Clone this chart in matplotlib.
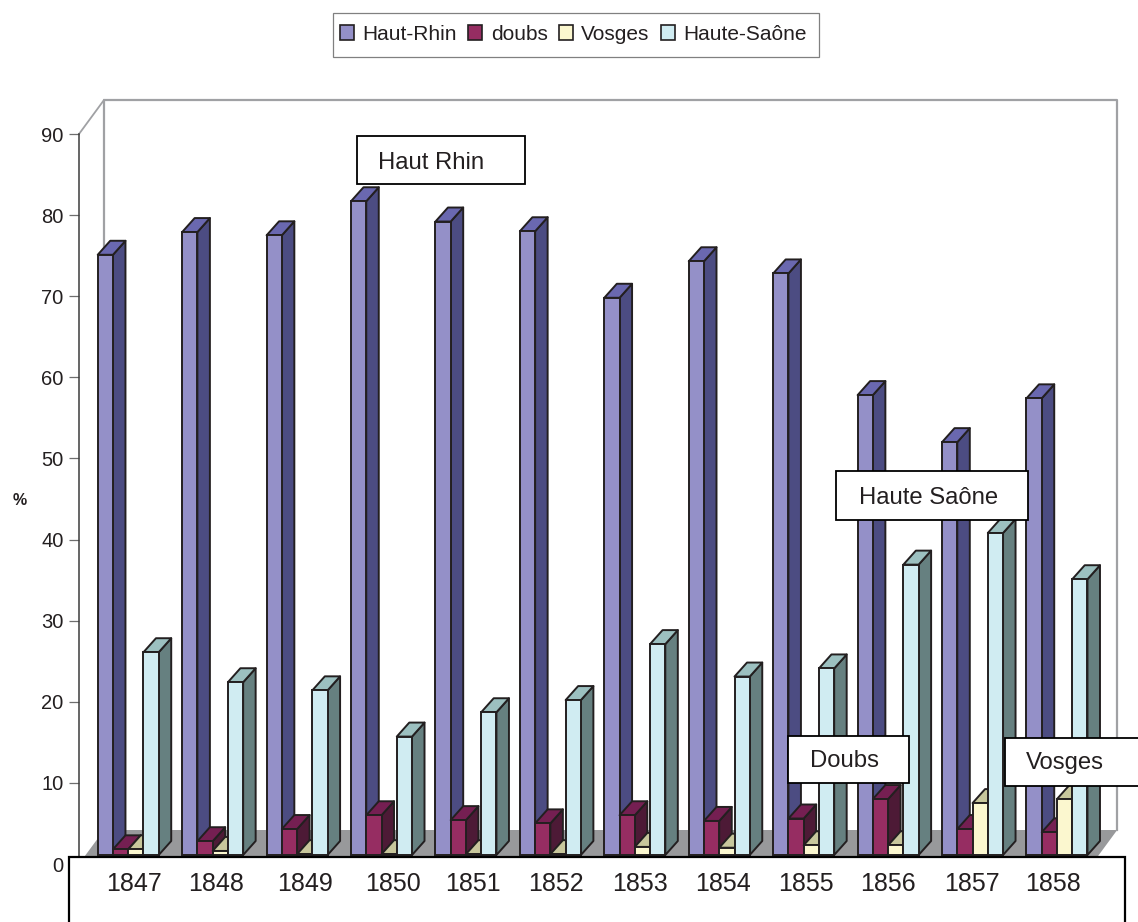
import matplotlib
matplotlib.use("Agg")
import matplotlib.pyplot as plt
from matplotlib.patches import Polygon, Rectangle, Patch

plt.rcParams['font.family'] = ['Liberation Sans', 'DejaVu Sans']

years = [1847, 1848, 1849, 1850, 1851, 1852, 1853, 1854, 1855, 1856, 1857, 1858]
series_names = ['Haut-Rhin', 'doubs', 'Vosges', 'Haute-Saône']
haut_rhin = [74.0, 76.8, 76.4, 80.6, 78.1, 76.9, 68.7, 73.2, 71.7, 56.7, 50.9, 56.3]
doubs = [0.7, 1.7, 3.2, 4.9, 4.3, 3.9, 4.9, 4.2, 4.5, 6.9, 3.2, 2.8]
vosges = [0.7, 0.5, 0.1, 0.1, 0.1, 0.1, 1.0, 0.9, 1.2, 1.2, 6.4, 6.9]
haute_saone = [25.0, 21.3, 20.3, 14.6, 17.6, 19.1, 26.0, 22.0, 23.0, 35.8, 39.7, 34.0]
yticks = list(range(0, 100, 10))

W, H = 1138, 922
INK = '#231f20'
front = ['#9490c8', '#962d62', '#fbf7cf', '#d0ecf2']
side = ['#4c4c82', '#4d1a36', '#7f7d68', '#668080']
top = ['#6a68b0', '#751f52', '#c8c79c', '#9cc0c0']

fig = plt.figure(figsize=(W / 100, H / 100), dpi=100, facecolor='white')
L, R, Y0, Y90 = 79, 1092.2, 864, 134
ax = fig.add_axes([L / W, (H - Y0) / H, (R - L) / W, (Y0 - Y90) / H])
ax.set_xlim(0, 12)
ax.set_ylim(0, 90)
for s in ['top', 'right', 'bottom']:
    ax.spines[s].set_visible(False)
ax.spines['left'].set_color('#3c3c3c')
ax.spines['left'].set_linewidth(1.1)
ax.patch.set_alpha(0)

pxx = 12 / (R - L)
pxy = 90 / (Y0 - Y90)
DX, DY = 25 * pxx, 34 * pxy          # wall depth
FX, FY = 7 * pxx, 9 * pxy            # bar front offset from the front plane
BX, BY = 12.5 * pxx, 14 * pxy        # bar depth
GAP = 0.2775
bw = (1 - GAP) / 4
LW = 1.4

GRAY = '#a0a1a4'
# floor and walls
ax.add_patch(Polygon([(0, 0), (12, 0), (12 + DX, DY), (DX, DY)], closed=True,
                     facecolor='#98999b', edgecolor='none', zorder=1, clip_on=False))
ax.plot([DX, DX, 12 + DX, 12 + DX], [DY, 90 + DY, 90 + DY, DY], color=GRAY, lw=1.6,
        zorder=1, clip_on=False)
ax.plot([0, DX], [90, 90 + DY], color=GRAY, lw=1.3, zorder=1, clip_on=False)

# bars
all_series = [haut_rhin, doubs, vosges, haute_saone]
z = 2
for g in range(len(years)):
    for k, vals in enumerate(all_series):
        x0 = g + GAP / 2 + k * bw + FX
        x1 = x0 + bw
        b = FY
        v = vals[g] + b
        kw = dict(closed=True, edgecolor=INK, linewidth=LW, joinstyle='round', clip_on=False)
        ax.add_patch(Polygon([(x1, b), (x1 + BX, b + BY), (x1 + BX, v + BY), (x1, v)],
                             facecolor=side[k], zorder=z, **kw))
        ax.add_patch(Polygon([(x0, v), (x1, v), (x1 + BX, v + BY), (x0 + BX, v + BY)],
                             facecolor=top[k], zorder=z, **kw))
        ax.add_patch(Rectangle((x0, b), bw, vals[g], facecolor=front[k], edgecolor=INK,
                               linewidth=LW, zorder=z, clip_on=False))
        z += 1

ax.set_xticks([])
ax.set_yticks(yticks)
ax.tick_params(axis='y', length=7.2, width=0.9, color='#6e6e6e', labelsize=14.5,
               labelcolor=INK, pad=4)

# overlay in pixel coordinates for the annotation boxes
ov = fig.add_axes([0, 0, 1, 1], zorder=10)
ov.set_xlim(0, W)
ov.set_ylim(H, 0)
ov.axis('off')

ov.add_patch(Rectangle((69, 857), 1056, 120, facecolor='white', edgecolor='black', lw=1.6))
year_x = [134, 216, 305, 393, 473, 556, 640, 723, 806, 888, 972, 1053]
for yr, xp in zip(years, year_x):
    ov.text(xp, 884, str(yr), ha='center', va='center', fontsize=18, color=INK)

boxes = [('Haut Rhin', 357, 136, 168, 48, 378, 163),
         ('Haute Saône', 836, 471, 192, 49, 859, 498),
         ('Doubs', 788, 736, 121, 47, 810, 761),
         ('Vosges', 1005, 738, 160, 48, 1026, 763)]
for label, bx, by, bwid, bh, tx, ty in boxes:
    ov.add_patch(Rectangle((bx, by), bwid, bh, facecolor='white', edgecolor='black', lw=1.3))
    ov.text(tx, ty, label, ha='left', va='center', fontsize=17.2, color=INK)

ov.text(20, 500, '%', ha='center', va='center', fontsize=11.5, fontweight='bold', color=INK)

# legend frame and content
ov.add_patch(Rectangle((333, 13), 486, 44, facecolor='white', edgecolor='#808080', lw=0.9))
handles = [Patch(facecolor=front[i], edgecolor=INK, linewidth=1.2) for i in range(4)]
leg = fig.legend(handles, series_names, ncol=4, loc='upper left',
                 bbox_to_anchor=(340 / W, 1 - 25 / H), bbox_transform=fig.transFigure,
                 fontsize=15, frameon=False,
                 handlelength=0.68, handleheight=0.7, handletextpad=0.4,
                 columnspacing=0.54, borderpad=0, borderaxespad=0, labelcolor=INK)
leg.set_zorder(20)

fig.savefig('out.png', dpi=100)
